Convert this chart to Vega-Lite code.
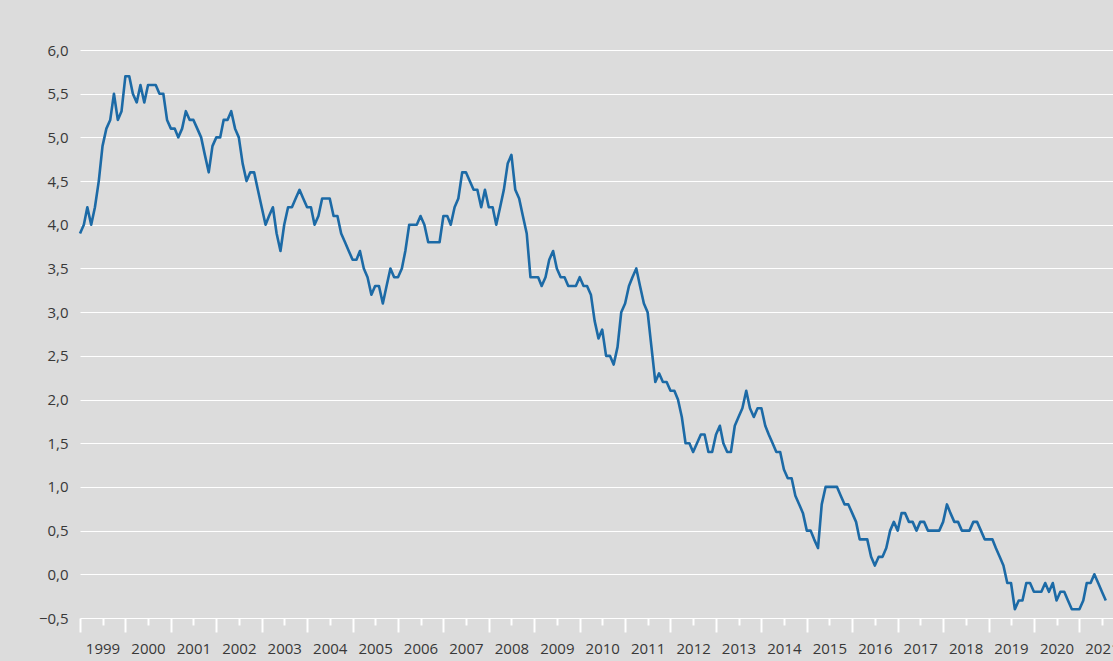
{
  "$schema": "https://vega.github.io/schema/vega-lite/v6.json",
  "width": 1033,
  "height": 568,
  "autosize": {"type": "none"},
  "padding": {"left": 80, "top": 50, "right": 0, "bottom": 43},
  "background": "#dcdcdc",
  "config": {
    "view": {"stroke": null},
    "font": "Open Sans",
    "axis": {"labelFont": "Open Sans", "labelFontSize": 15, "labelColor": "#383838"}
  },
  "data": {
    "values": [
      {"date": "1999-01-01", "value": 3.9}, {"date": "1999-02-01", "value": 4.0}, {"date": "1999-03-01", "value": 4.2}, {"date": "1999-04-01", "value": 4.0}, {"date": "1999-05-01", "value": 4.2}, {"date": "1999-06-01", "value": 4.5}, {"date": "1999-07-01", "value": 4.9}, {"date": "1999-08-01", "value": 5.1}, {"date": "1999-09-01", "value": 5.2}, {"date": "1999-10-01", "value": 5.5}, {"date": "1999-11-01", "value": 5.2}, {"date": "1999-12-01", "value": 5.3},
      {"date": "2000-01-01", "value": 5.7}, {"date": "2000-02-01", "value": 5.7}, {"date": "2000-03-01", "value": 5.5}, {"date": "2000-04-01", "value": 5.4}, {"date": "2000-05-01", "value": 5.6}, {"date": "2000-06-01", "value": 5.4}, {"date": "2000-07-01", "value": 5.6}, {"date": "2000-08-01", "value": 5.6}, {"date": "2000-09-01", "value": 5.6}, {"date": "2000-10-01", "value": 5.5}, {"date": "2000-11-01", "value": 5.5}, {"date": "2000-12-01", "value": 5.2},
      {"date": "2001-01-01", "value": 5.1}, {"date": "2001-02-01", "value": 5.1}, {"date": "2001-03-01", "value": 5.0}, {"date": "2001-04-01", "value": 5.1}, {"date": "2001-05-01", "value": 5.3}, {"date": "2001-06-01", "value": 5.2}, {"date": "2001-07-01", "value": 5.2}, {"date": "2001-08-01", "value": 5.1}, {"date": "2001-09-01", "value": 5.0}, {"date": "2001-10-01", "value": 4.8}, {"date": "2001-11-01", "value": 4.6}, {"date": "2001-12-01", "value": 4.9},
      {"date": "2002-01-01", "value": 5.0}, {"date": "2002-02-01", "value": 5.0}, {"date": "2002-03-01", "value": 5.2}, {"date": "2002-04-01", "value": 5.2}, {"date": "2002-05-01", "value": 5.3}, {"date": "2002-06-01", "value": 5.1}, {"date": "2002-07-01", "value": 5.0}, {"date": "2002-08-01", "value": 4.7}, {"date": "2002-09-01", "value": 4.5}, {"date": "2002-10-01", "value": 4.6}, {"date": "2002-11-01", "value": 4.6}, {"date": "2002-12-01", "value": 4.4},
      {"date": "2003-01-01", "value": 4.2}, {"date": "2003-02-01", "value": 4.0}, {"date": "2003-03-01", "value": 4.1}, {"date": "2003-04-01", "value": 4.2}, {"date": "2003-05-01", "value": 3.9}, {"date": "2003-06-01", "value": 3.7}, {"date": "2003-07-01", "value": 4.0}, {"date": "2003-08-01", "value": 4.2}, {"date": "2003-09-01", "value": 4.2}, {"date": "2003-10-01", "value": 4.3}, {"date": "2003-11-01", "value": 4.4}, {"date": "2003-12-01", "value": 4.3},
      {"date": "2004-01-01", "value": 4.2}, {"date": "2004-02-01", "value": 4.2}, {"date": "2004-03-01", "value": 4.0}, {"date": "2004-04-01", "value": 4.1}, {"date": "2004-05-01", "value": 4.3}, {"date": "2004-06-01", "value": 4.3}, {"date": "2004-07-01", "value": 4.3}, {"date": "2004-08-01", "value": 4.1}, {"date": "2004-09-01", "value": 4.1}, {"date": "2004-10-01", "value": 3.9}, {"date": "2004-11-01", "value": 3.8}, {"date": "2004-12-01", "value": 3.7},
      {"date": "2005-01-01", "value": 3.6}, {"date": "2005-02-01", "value": 3.6}, {"date": "2005-03-01", "value": 3.7}, {"date": "2005-04-01", "value": 3.5}, {"date": "2005-05-01", "value": 3.4}, {"date": "2005-06-01", "value": 3.2}, {"date": "2005-07-01", "value": 3.3}, {"date": "2005-08-01", "value": 3.3}, {"date": "2005-09-01", "value": 3.1}, {"date": "2005-10-01", "value": 3.3}, {"date": "2005-11-01", "value": 3.5}, {"date": "2005-12-01", "value": 3.4},
      {"date": "2006-01-01", "value": 3.4}, {"date": "2006-02-01", "value": 3.5}, {"date": "2006-03-01", "value": 3.7}, {"date": "2006-04-01", "value": 4.0}, {"date": "2006-05-01", "value": 4.0}, {"date": "2006-06-01", "value": 4.0}, {"date": "2006-07-01", "value": 4.1}, {"date": "2006-08-01", "value": 4.0}, {"date": "2006-09-01", "value": 3.8}, {"date": "2006-10-01", "value": 3.8}, {"date": "2006-11-01", "value": 3.8}, {"date": "2006-12-01", "value": 3.8},
      {"date": "2007-01-01", "value": 4.1}, {"date": "2007-02-01", "value": 4.1}, {"date": "2007-03-01", "value": 4.0}, {"date": "2007-04-01", "value": 4.2}, {"date": "2007-05-01", "value": 4.3}, {"date": "2007-06-01", "value": 4.6}, {"date": "2007-07-01", "value": 4.6}, {"date": "2007-08-01", "value": 4.5}, {"date": "2007-09-01", "value": 4.4}, {"date": "2007-10-01", "value": 4.4}, {"date": "2007-11-01", "value": 4.2}, {"date": "2007-12-01", "value": 4.4},
      {"date": "2008-01-01", "value": 4.2}, {"date": "2008-02-01", "value": 4.2}, {"date": "2008-03-01", "value": 4.0}, {"date": "2008-04-01", "value": 4.2}, {"date": "2008-05-01", "value": 4.4}, {"date": "2008-06-01", "value": 4.7}, {"date": "2008-07-01", "value": 4.8}, {"date": "2008-08-01", "value": 4.4}, {"date": "2008-09-01", "value": 4.3}, {"date": "2008-10-01", "value": 4.1}, {"date": "2008-11-01", "value": 3.9}, {"date": "2008-12-01", "value": 3.4},
      {"date": "2009-01-01", "value": 3.4}, {"date": "2009-02-01", "value": 3.4}, {"date": "2009-03-01", "value": 3.3}, {"date": "2009-04-01", "value": 3.4}, {"date": "2009-05-01", "value": 3.6}, {"date": "2009-06-01", "value": 3.7}, {"date": "2009-07-01", "value": 3.5}, {"date": "2009-08-01", "value": 3.4}, {"date": "2009-09-01", "value": 3.4}, {"date": "2009-10-01", "value": 3.3}, {"date": "2009-11-01", "value": 3.3}, {"date": "2009-12-01", "value": 3.3},
      {"date": "2010-01-01", "value": 3.4}, {"date": "2010-02-01", "value": 3.3}, {"date": "2010-03-01", "value": 3.3}, {"date": "2010-04-01", "value": 3.2}, {"date": "2010-05-01", "value": 2.9}, {"date": "2010-06-01", "value": 2.7}, {"date": "2010-07-01", "value": 2.8}, {"date": "2010-08-01", "value": 2.5}, {"date": "2010-09-01", "value": 2.5}, {"date": "2010-10-01", "value": 2.4}, {"date": "2010-11-01", "value": 2.6}, {"date": "2010-12-01", "value": 3.0},
      {"date": "2011-01-01", "value": 3.1}, {"date": "2011-02-01", "value": 3.3}, {"date": "2011-03-01", "value": 3.4}, {"date": "2011-04-01", "value": 3.5}, {"date": "2011-05-01", "value": 3.3}, {"date": "2011-06-01", "value": 3.1}, {"date": "2011-07-01", "value": 3.0}, {"date": "2011-08-01", "value": 2.6}, {"date": "2011-09-01", "value": 2.2}, {"date": "2011-10-01", "value": 2.3}, {"date": "2011-11-01", "value": 2.2}, {"date": "2011-12-01", "value": 2.2},
      {"date": "2012-01-01", "value": 2.1}, {"date": "2012-02-01", "value": 2.1}, {"date": "2012-03-01", "value": 2.0}, {"date": "2012-04-01", "value": 1.8}, {"date": "2012-05-01", "value": 1.5}, {"date": "2012-06-01", "value": 1.5}, {"date": "2012-07-01", "value": 1.4}, {"date": "2012-08-01", "value": 1.5}, {"date": "2012-09-01", "value": 1.6}, {"date": "2012-10-01", "value": 1.6}, {"date": "2012-11-01", "value": 1.4}, {"date": "2012-12-01", "value": 1.4},
      {"date": "2013-01-01", "value": 1.6}, {"date": "2013-02-01", "value": 1.7}, {"date": "2013-03-01", "value": 1.5}, {"date": "2013-04-01", "value": 1.4}, {"date": "2013-05-01", "value": 1.4}, {"date": "2013-06-01", "value": 1.7}, {"date": "2013-07-01", "value": 1.8}, {"date": "2013-08-01", "value": 1.9}, {"date": "2013-09-01", "value": 2.1}, {"date": "2013-10-01", "value": 1.9}, {"date": "2013-11-01", "value": 1.8}, {"date": "2013-12-01", "value": 1.9},
      {"date": "2014-01-01", "value": 1.9}, {"date": "2014-02-01", "value": 1.7}, {"date": "2014-03-01", "value": 1.6}, {"date": "2014-04-01", "value": 1.5}, {"date": "2014-05-01", "value": 1.4}, {"date": "2014-06-01", "value": 1.4}, {"date": "2014-07-01", "value": 1.2}, {"date": "2014-08-01", "value": 1.1}, {"date": "2014-09-01", "value": 1.1}, {"date": "2014-10-01", "value": 0.9}, {"date": "2014-11-01", "value": 0.8}, {"date": "2014-12-01", "value": 0.7},
      {"date": "2015-01-01", "value": 0.5}, {"date": "2015-02-01", "value": 0.5}, {"date": "2015-03-01", "value": 0.4}, {"date": "2015-04-01", "value": 0.3}, {"date": "2015-05-01", "value": 0.8}, {"date": "2015-06-01", "value": 1.0}, {"date": "2015-07-01", "value": 1.0}, {"date": "2015-08-01", "value": 1.0}, {"date": "2015-09-01", "value": 1.0}, {"date": "2015-10-01", "value": 0.9}, {"date": "2015-11-01", "value": 0.8}, {"date": "2015-12-01", "value": 0.8},
      {"date": "2016-01-01", "value": 0.7}, {"date": "2016-02-01", "value": 0.6}, {"date": "2016-03-01", "value": 0.4}, {"date": "2016-04-01", "value": 0.4}, {"date": "2016-05-01", "value": 0.4}, {"date": "2016-06-01", "value": 0.2}, {"date": "2016-07-01", "value": 0.1}, {"date": "2016-08-01", "value": 0.2}, {"date": "2016-09-01", "value": 0.2}, {"date": "2016-10-01", "value": 0.3}, {"date": "2016-11-01", "value": 0.5}, {"date": "2016-12-01", "value": 0.6},
      {"date": "2017-01-01", "value": 0.5}, {"date": "2017-02-01", "value": 0.7}, {"date": "2017-03-01", "value": 0.7}, {"date": "2017-04-01", "value": 0.6}, {"date": "2017-05-01", "value": 0.6}, {"date": "2017-06-01", "value": 0.5}, {"date": "2017-07-01", "value": 0.6}, {"date": "2017-08-01", "value": 0.6}, {"date": "2017-09-01", "value": 0.5}, {"date": "2017-10-01", "value": 0.5}, {"date": "2017-11-01", "value": 0.5}, {"date": "2017-12-01", "value": 0.5},
      {"date": "2018-01-01", "value": 0.6}, {"date": "2018-02-01", "value": 0.8}, {"date": "2018-03-01", "value": 0.7}, {"date": "2018-04-01", "value": 0.6}, {"date": "2018-05-01", "value": 0.6}, {"date": "2018-06-01", "value": 0.5}, {"date": "2018-07-01", "value": 0.5}, {"date": "2018-08-01", "value": 0.5}, {"date": "2018-09-01", "value": 0.6}, {"date": "2018-10-01", "value": 0.6}, {"date": "2018-11-01", "value": 0.5}, {"date": "2018-12-01", "value": 0.4},
      {"date": "2019-01-01", "value": 0.4}, {"date": "2019-02-01", "value": 0.4}, {"date": "2019-03-01", "value": 0.3}, {"date": "2019-04-01", "value": 0.2}, {"date": "2019-05-01", "value": 0.1}, {"date": "2019-06-01", "value": -0.1}, {"date": "2019-07-01", "value": -0.1}, {"date": "2019-08-01", "value": -0.4}, {"date": "2019-09-01", "value": -0.3}, {"date": "2019-10-01", "value": -0.3}, {"date": "2019-11-01", "value": -0.1}, {"date": "2019-12-01", "value": -0.1},
      {"date": "2020-01-01", "value": -0.2}, {"date": "2020-02-01", "value": -0.2}, {"date": "2020-03-01", "value": -0.2}, {"date": "2020-04-01", "value": -0.1}, {"date": "2020-05-01", "value": -0.2}, {"date": "2020-06-01", "value": -0.1}, {"date": "2020-07-01", "value": -0.3}, {"date": "2020-08-01", "value": -0.2}, {"date": "2020-09-01", "value": -0.2}, {"date": "2020-10-01", "value": -0.3}, {"date": "2020-11-01", "value": -0.4}, {"date": "2020-12-01", "value": -0.4},
      {"date": "2021-01-01", "value": -0.4}, {"date": "2021-02-01", "value": -0.3}, {"date": "2021-03-01", "value": -0.1}, {"date": "2021-04-01", "value": -0.1}, {"date": "2021-05-01", "value": 0.0}, {"date": "2021-06-01", "value": -0.1}, {"date": "2021-07-01", "value": -0.2}, {"date": "2021-08-01", "value": -0.3}
    ]
  },
  "mark": {"type": "line", "color": "#1c6aa6", "strokeWidth": 2.6, "strokeJoin": "round"},
  "encoding": {
    "x": {
      "field": "date",
      "type": "temporal",
      "scale": {"type": "utc", "domain": ["1999-01-01", "2021-09-28"]},
      "axis": {
        "title": null,
        "grid": false,
        "domain": false,
        "tickCount": {"interval": "month", "step": 6},
        "tickColor": "#ffffff",
        "tickWidth": 2,
        "tickSize": {"condition": {"test": "utcmonth(datum.value) == 0", "value": 14}, "value": 7},
        "labelExpr": "utcmonth(datum.value) == 6 ? utcFormat(datum.value, '%Y') : ''",
        "labelOverlap": false,
        "labelFlush": false,
        "labelPadding": 16
      }
    },
    "y": {
      "field": "value",
      "type": "quantitative",
      "scale": {"domain": [-0.5, 6.0], "nice": false, "zero": false},
      "axis": {
        "title": null,
        "values": [-0.5, 0, 0.5, 1, 1.5, 2, 2.5, 3, 3.5, 4, 4.5, 5, 5.5, 6],
        "labelExpr": "replace(format(datum.value, '.1f'), '.', ',')",
        "grid": true,
        "gridColor": "#ffffff",
        "gridWidth": 1,
        "gridOpacity": 1,
        "domain": false,
        "ticks": false,
        "labelPadding": 12
      }
    }
  }
}
